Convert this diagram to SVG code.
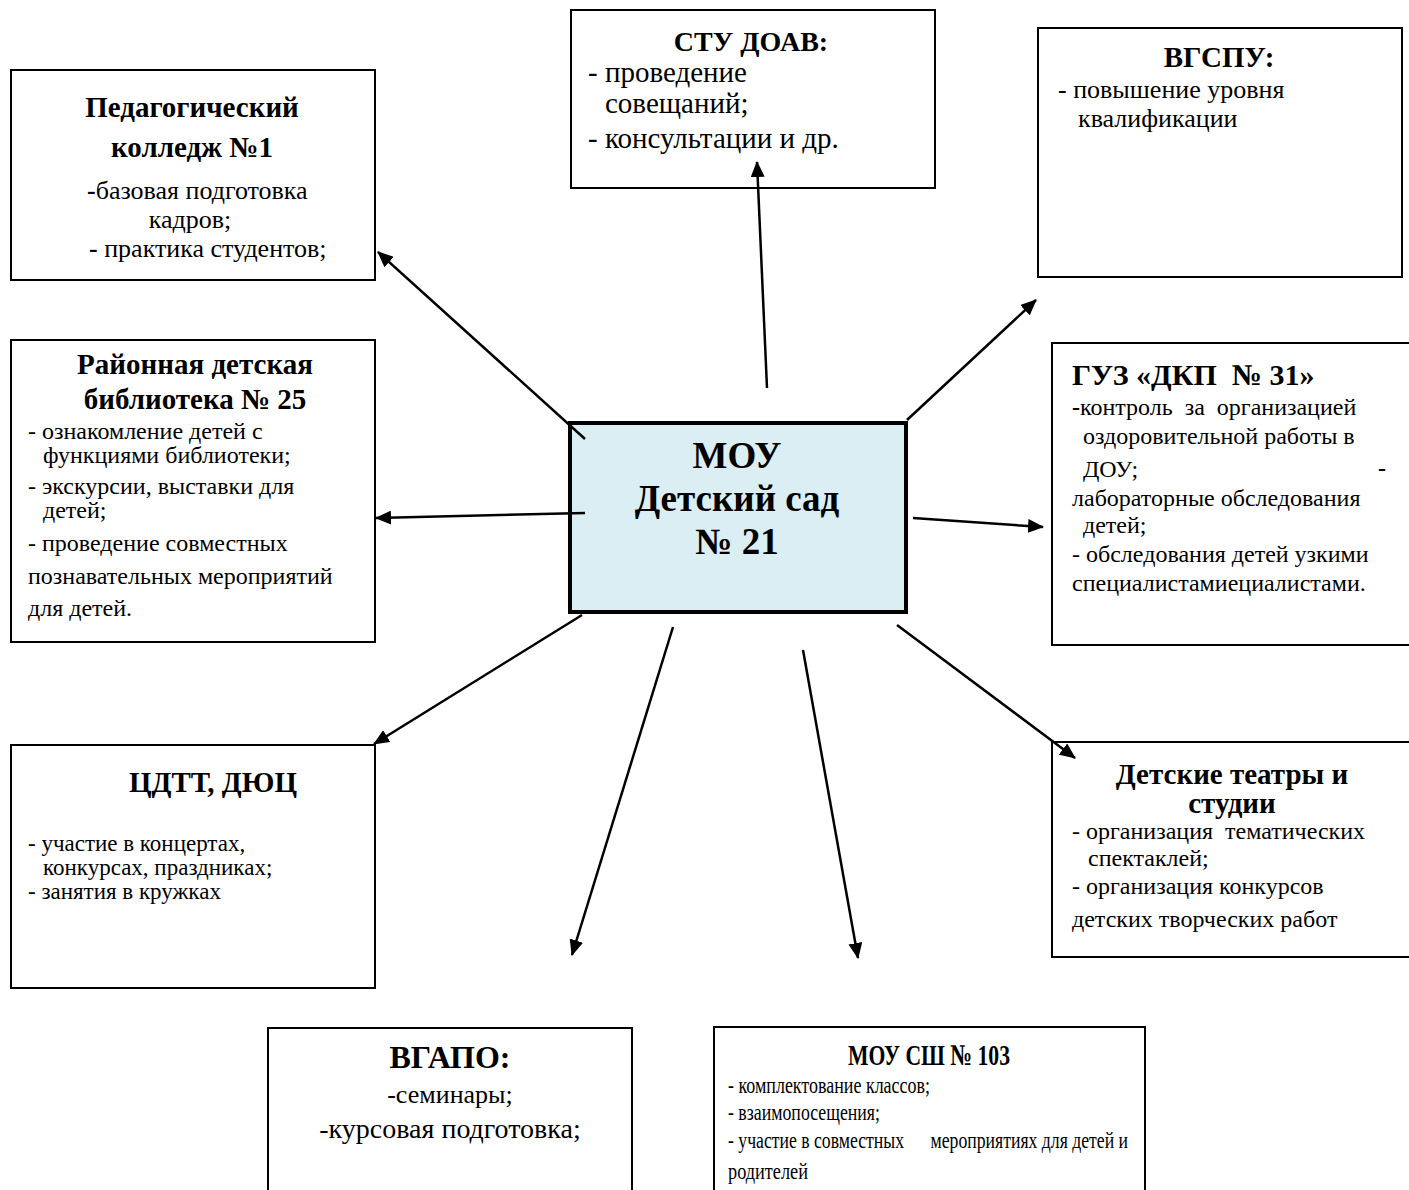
<svg xmlns="http://www.w3.org/2000/svg" width="1409" height="1190" viewBox="0 0 1409 1190">
<style>
.box{fill:#ffffff;stroke:#000;stroke-width:2}
.center{fill:#DAEEF3;stroke:#000;stroke-width:4}
text{font-family:"Liberation Serif","Times New Roman",serif;fill:#000}
.t{font-weight:bold;font-size:29px;text-anchor:middle}
.b{font-size:24px}
.bc{font-size:26px;text-anchor:middle}
.con{stroke:#000;stroke-width:2.5;fill:none;marker-end:url(#ah)}
</style>
<defs>
<marker id="ah" markerWidth="16" markerHeight="14" refX="15" refY="7" orient="auto" markerUnits="userSpaceOnUse">
<path d="M0,0 L16,7 L0,14 Z" fill="#000"/>
</marker>
</defs>
<rect width="1409" height="1190" fill="#fff"/>

<g id="center">
<rect class="center" x="570" y="423" width="336" height="189"/>
<text class="t" x="737" y="468" style="font-size:37px">МОУ</text>
<text class="t" x="737" y="511" style="font-size:37px">Детский сад</text>
<text class="t" x="737" y="554" style="font-size:37px">№ 21</text>
</g>

<g id="ped-college">
<rect class="box" x="11" y="70" width="364" height="210"/>
<text class="t" x="192" y="117">Педагогический</text>
<text class="t" x="192" y="157">колледж №1</text>
<text class="b" x="87" y="199" style="font-size:26px"><tspan font-weight="bold">-</tspan>базовая подготовка</text>
<text class="bc" x="190" y="228">кадров;</text>
<text class="b" x="89" y="257" style="font-size:26px"><tspan font-weight="bold">-</tspan> практика студентов;</text>
</g>

<g id="stu-doav">
<rect class="box" x="571" y="10" width="364" height="178"/>
<text class="t" x="751" y="51" style="font-size:28px">СТУ ДОАВ:</text>
<text class="b" x="588" y="82" style="font-size:29px">- проведение</text>
<text class="b" x="605" y="113" style="font-size:29px">совещаний;</text>
<text class="b" x="588" y="148" style="font-size:29px">- консультации и др.</text>
</g>

<g id="vgspu">
<rect class="box" x="1038" y="28" width="364" height="249"/>
<text class="t" x="1219" y="67">ВГСПУ:</text>
<text class="b" x="1058" y="98" style="font-size:26px">- повышение уровня</text>
<text class="b" x="1078" y="127" style="font-size:26px">квалификации</text>
</g>

<g id="library">
<rect class="box" x="11" y="340" width="364" height="302"/>
<text class="t" x="195" y="374">Районная детская</text>
<text class="t" x="195" y="409">библиотека № 25</text>
<text class="b" x="28" y="439">- ознакомление детей с</text>
<text class="b" x="43" y="463">функциями библиотеки;</text>
<text class="b" x="28" y="494">- экскурсии, выставки для</text>
<text class="b" x="43" y="518">детей;</text>
<text class="b" x="28" y="551">- проведение совместных</text>
<text class="b" x="28" y="584">познавательных мероприятий</text>
<text class="b" x="28" y="616">для детей.</text>
</g>

<g id="guz">
<rect class="box" x="1052" y="343" width="380" height="302"/>
<text class="t" x="1072" y="385" style="text-anchor:start;font-size:30px" xml:space="preserve">ГУЗ «ДКП  № 31»</text>
<text class="b" x="1072" y="415" xml:space="preserve"><tspan font-weight="bold">-</tspan>контроль  за  организацией</text>
<text class="b" x="1083" y="444">оздоровительной работы в</text>
<text class="b" x="1083" y="477">ДОУ;</text>
<text class="b" x="1378" y="476" font-weight="bold">-</text>
<text class="b" x="1072" y="506">лабораторные обследования</text>
<text class="b" x="1083" y="533">детей;</text>
<text class="b" x="1072" y="562">- обследования детей узкими</text>
<text class="b" x="1072" y="591">специалистамиециалистами.</text>
</g>

<g id="cdtt">
<rect class="box" x="11" y="745" width="364" height="243"/>
<text class="t" x="213" y="792">ЦДТТ, ДЮЦ</text>
<text class="b" x="28" y="851" style="font-size:23px">- участие в концертах,</text>
<text class="b" x="43" y="875" style="font-size:23px">конкурсах, праздниках;</text>
<text class="b" x="28" y="899" style="font-size:23px">- занятия в кружках</text>
</g>

<g id="theatres">
<rect class="box" x="1052" y="742" width="380" height="215"/>
<text class="t" x="1232" y="784">Детские театры и</text>
<text class="t" x="1232" y="813">студии</text>
<text class="b" x="1072" y="839" xml:space="preserve">- организация  тематических</text>
<text class="b" x="1088" y="866">спектаклей;</text>
<text class="b" x="1072" y="894">- организация конкурсов</text>
<text class="b" x="1072" y="927">детских творческих работ</text>
</g>

<g id="vgapo">
<rect class="box" x="268" y="1028" width="364" height="200"/>
<text class="t" x="450" y="1068" style="font-size:32px">ВГАПО:</text>
<text class="bc" x="450" y="1103">-семинары;</text>
<text class="bc" x="450" y="1138" style="font-size:28px">-курсовая подготовка;</text>
</g>

<g id="school">
<rect class="box" x="714" y="1027" width="431" height="200"/>
<text class="t" x="929" y="1065" style="font-size:30px" textLength="162" lengthAdjust="spacingAndGlyphs">МОУ СШ № 103</text>
<text class="b" x="728" y="1093" textLength="202" lengthAdjust="spacingAndGlyphs">- комплектование классов;</text>
<text class="b" x="728" y="1120" textLength="152" lengthAdjust="spacingAndGlyphs">- взаимопосещения;</text>
<text class="b" x="728" y="1148" xml:space="preserve" textLength="400" lengthAdjust="spacingAndGlyphs">- участие в совместных      мероприятиях для детей и</text>
<text class="b" x="728" y="1179" textLength="80" lengthAdjust="spacingAndGlyphs">родителей</text>
</g>

<g id="connectors">
<line class="con" x1="585" y1="439" x2="378" y2="252"/>
<line class="con" x1="767" y1="388" x2="757" y2="162"/>
<line class="con" x1="907" y1="420" x2="1036" y2="300"/>
<line class="con" x1="585" y1="513" x2="376" y2="518"/>
<line class="con" x1="913" y1="518" x2="1043" y2="527"/>
<line class="con" x1="582" y1="615" x2="374" y2="744"/>
<line class="con" x1="673" y1="627" x2="572" y2="955"/>
<line class="con" x1="803" y1="650" x2="858" y2="958"/>
<line class="con" x1="897" y1="625" x2="1075" y2="758"/>
</g>
</svg>
